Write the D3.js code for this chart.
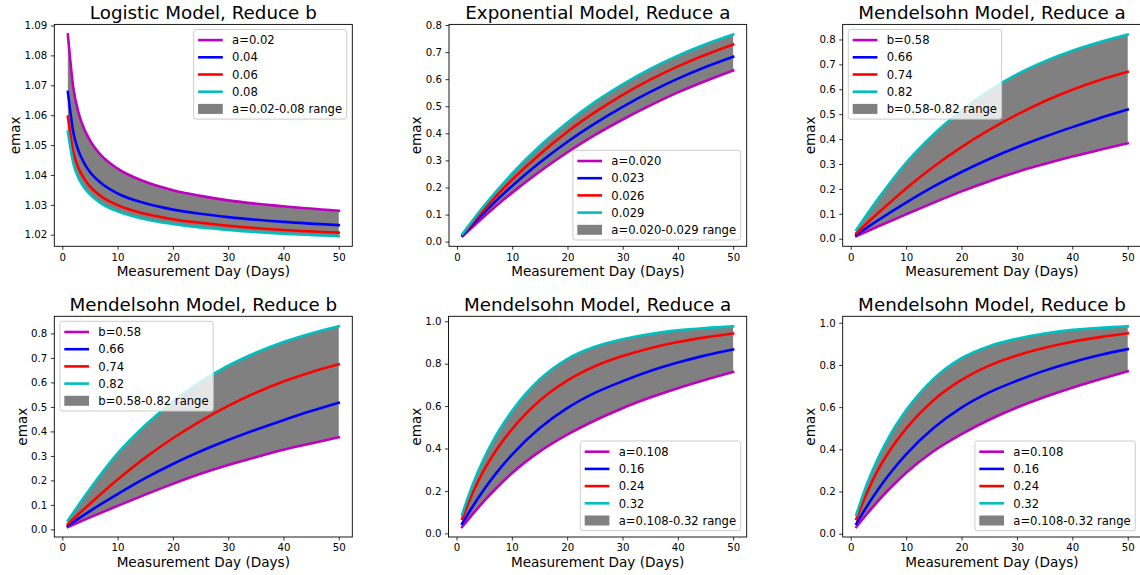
<!DOCTYPE html>
<html>
<head>
<meta charset="utf-8">
<script src="https://cdn.jsdelivr.net/npm/d3@7"></script>
<style>
  body { margin: 0; background: #fff; }
  svg { display: block; }
  svg text { font-family: 'DejaVu Sans', 'DejaVuSans', 'Bitstream Vera Sans', sans-serif; }
</style>
</head>
<body>
<svg width="1140" height="575"></svg>
<script>
// values, one array per curve group
const logisticDays = [1, 2, 3, 4, 5, 7, 10, 15, 20, 25, 30, 40, 50];
const logisticValues = [
  [1.0870, 1.0690, 1.0604, 1.0552, 1.0516, 1.0466, 1.0421, 1.0377, 1.0349, 1.0330, 1.0315, 1.0295, 1.0280],
  [1.0678, 1.0542, 1.0477, 1.0438, 1.0410, 1.0373, 1.0338, 1.0305, 1.0284, 1.0270, 1.0259, 1.0243, 1.0232],
  [1.0595, 1.0476, 1.0420, 1.0386, 1.0362, 1.0329, 1.0299, 1.0270, 1.0252, 1.0240, 1.0230, 1.0216, 1.0207],
  [1.0545, 1.0438, 1.0387, 1.0356, 1.0335, 1.0305, 1.0278, 1.0252, 1.0236, 1.0224, 1.0216, 1.0203, 1.0195]
];
const logisticLabels = ['a=0.02', '0.04', '0.06', '0.08', 'a=0.02-0.08 range'];
const logisticTicks = [1.02, 1.03, 1.04, 1.05, 1.06, 1.07, 1.08, 1.09];

const expDays = [1, 5, 10, 15, 20, 25, 30, 35, 40, 45, 50];
const expValues = [
  [0.020, 0.095, 0.181, 0.259, 0.330, 0.394, 0.451, 0.503, 0.551, 0.593, 0.632],
  [0.023, 0.109, 0.206, 0.292, 0.369, 0.437, 0.498, 0.553, 0.602, 0.645, 0.683],
  [0.026, 0.122, 0.229, 0.323, 0.406, 0.478, 0.542, 0.598, 0.647, 0.690, 0.728],
  [0.029, 0.135, 0.252, 0.353, 0.440, 0.516, 0.581, 0.638, 0.687, 0.729, 0.765]
];
const expLabels = ['a=0.020', '0.023', '0.026', '0.029', 'a=0.020-0.029 range'];

const mendelDays = [1, 5, 10, 15, 20, 25, 30, 35, 40, 45, 50];
const mendelAValues = [
  [0.010, 0.050, 0.098, 0.145, 0.190, 0.231, 0.268, 0.300, 0.330, 0.357, 0.383],
  [0.015, 0.075, 0.145, 0.210, 0.268, 0.320, 0.367, 0.409, 0.448, 0.485, 0.519],
  [0.022, 0.104, 0.202, 0.290, 0.368, 0.437, 0.498, 0.552, 0.598, 0.637, 0.670],
  [0.035, 0.162, 0.305, 0.420, 0.515, 0.595, 0.660, 0.712, 0.755, 0.790, 0.820]
];
const mendelBValues = [
  [0.010, 0.049, 0.096, 0.142, 0.186, 0.227, 0.263, 0.295, 0.325, 0.351, 0.376],
  [0.015, 0.075, 0.144, 0.209, 0.267, 0.319, 0.365, 0.407, 0.446, 0.483, 0.517],
  [0.022, 0.105, 0.204, 0.293, 0.372, 0.442, 0.504, 0.558, 0.604, 0.642, 0.674],
  [0.036, 0.165, 0.310, 0.425, 0.521, 0.602, 0.668, 0.721, 0.765, 0.800, 0.829]
];
const mendelLabels = ['b=0.58', '0.66', '0.74', '0.82', 'b=0.58-0.82 range'];

const mendel2Days = [1, 3, 5, 7, 10, 15, 20, 25, 30, 35, 40, 45, 50];
const mendel2AValues = [
  [0.030, 0.093, 0.153, 0.208, 0.283, 0.385, 0.465, 0.532, 0.590, 0.640, 0.684, 0.724, 0.761],
  [0.045, 0.130, 0.208, 0.278, 0.370, 0.495, 0.590, 0.662, 0.717, 0.765, 0.805, 0.839, 0.867],
  [0.068, 0.195, 0.300, 0.385, 0.490, 0.625, 0.720, 0.788, 0.836, 0.873, 0.902, 0.924, 0.942],
  [0.088, 0.235, 0.355, 0.455, 0.575, 0.725, 0.822, 0.880, 0.915, 0.940, 0.957, 0.968, 0.976]
];
const mendel2BValues = [
  [0.032, 0.096, 0.157, 0.213, 0.289, 0.392, 0.472, 0.540, 0.598, 0.648, 0.692, 0.732, 0.770],
  [0.047, 0.133, 0.212, 0.283, 0.376, 0.502, 0.598, 0.670, 0.725, 0.773, 0.813, 0.847, 0.875],
  [0.070, 0.198, 0.306, 0.392, 0.498, 0.634, 0.729, 0.797, 0.845, 0.881, 0.910, 0.932, 0.950],
  [0.090, 0.240, 0.362, 0.463, 0.585, 0.735, 0.832, 0.889, 0.924, 0.949, 0.966, 0.976, 0.983]
];
const mendel2Labels = ['a=0.108', '0.16', '0.24', '0.32', 'a=0.108-0.32 range'];

const dayTicks = [0, 10, 20, 30, 40, 50];
const emaxTicks08 = [0, 0.1, 0.2, 0.3, 0.4, 0.5, 0.6, 0.7, 0.8];
const emaxTicks10 = [0, 0.2, 0.4, 0.6, 0.8, 1.0];

const colors = ['#bf00bf', '#0000ff', '#ff0000', '#00bfbf'];
const rangeFill = '#808080';
const font = "'DejaVu Sans', 'DejaVuSans', sans-serif";

const panels = [
  { title: 'Logistic Model, Reduce b', days: logisticDays, values: logisticValues, labels: logisticLabels,
    yTicks: logisticTicks, fmt: '.2f', box: [54.3, 24.4, 352.3, 246.3], legend: 'upper right' },
  { title: 'Exponential Model, Reduce a', days: expDays, values: expValues, labels: expLabels,
    yTicks: emaxTicks08, fmt: '.1f', box: [449, 24.4, 746.7, 246.3], legend: 'lower right' },
  { title: 'Mendelsohn Model, Reduce a', days: mendelDays, values: mendelAValues, labels: mendelLabels,
    yTicks: emaxTicks08, fmt: '.1f', box: [842.7, 24.4, 1141.3, 246.3], legend: 'upper left' },
  { title: 'Mendelsohn Model, Reduce b', days: mendelDays, values: mendelBValues, labels: mendelLabels,
    yTicks: emaxTicks08, fmt: '.1f', box: [54.3, 316.3, 352.3, 537], legend: 'upper left' },
  { title: 'Mendelsohn Model, Reduce a', days: mendel2Days, values: mendel2AValues, labels: mendel2Labels,
    yTicks: emaxTicks10, fmt: '.1f', box: [448.5, 316.3, 746.7, 537], legend: 'lower right' },
  { title: 'Mendelsohn Model, Reduce b', days: mendel2Days, values: mendel2BValues, labels: mendel2Labels,
    yTicks: emaxTicks10, fmt: '.1f', box: [842.7, 316.3, 1141.3, 537], legend: 'lower right' }
];

const svg = d3.select('svg').attr('font-family', font);

// matplotlib style 5% margins
function padded(ext) {
  const m = (ext[1] - ext[0]) * 0.05;
  return [ext[0] - m, ext[1] + m];
}

function label(sel, size) {
  return sel.append('text').attr('font-family', font).attr('font-size', size).attr('fill', '#000');
}

function drawPanel(p) {
  const [x0, y0, x1, y1] = p.box;
  const x = d3.scaleLinear().domain(padded(d3.extent(p.days))).range([x0, x1]);
  const y = d3.scaleLinear().domain(padded(d3.extent(p.values.flat()))).range([y1, y0]);
  const g = svg.append('g');

  const last = p.values[p.values.length - 1];
  const area = d3.area()
    .x((d, i) => x(p.days[i]))
    .y0((d, i) => y(last[i]))
    .y1(d => y(d))
    .curve(d3.curveMonotoneX);
  g.append('path').datum(p.values[0]).attr('d', area).attr('fill', rangeFill);

  const line = d3.line()
    .x((d, i) => x(p.days[i]))
    .y(d => y(d))
    .curve(d3.curveMonotoneX);
  p.values.forEach((v, k) => {
    g.append('path').datum(v)
      .attr('d', line)
      .attr('fill', 'none')
      .attr('stroke', colors[k])
      .attr('stroke-width', 2.6)
      .attr('stroke-linecap', 'square');
  });

  const xAxis = g.append('g')
    .attr('transform', `translate(0,${y1})`)
    .call(d3.axisBottom(x).tickValues(dayTicks).tickFormat(d3.format('d')).tickSize(3.5).tickPadding(3.5));
  const yAxis = g.append('g')
    .attr('transform', `translate(${x0},0)`)
    .call(d3.axisLeft(y).tickValues(p.yTicks).tickFormat(d3.format(p.fmt)).tickSize(3.5).tickPadding(3.5));
  [xAxis, yAxis].forEach(a => {
    a.select('.domain').remove();
    a.attr('font-family', font).attr('font-size', 10.2);
    a.selectAll('line').attr('stroke', '#000').attr('stroke-width', 0.8);
    a.selectAll('text').attr('fill', '#000').attr('font-family', font);
  });

  g.append('rect')
    .attr('x', x0).attr('y', y0)
    .attr('width', x1 - x0).attr('height', y1 - y0)
    .attr('fill', 'none').attr('stroke', '#000').attr('stroke-width', 0.9);

  const cx = (x0 + x1) / 2;
  label(g, 18.3).attr('x', cx).attr('y', y0 - 5.5)
    .attr('text-anchor', 'middle').text(p.title);
  label(g, 13.6).attr('x', cx).attr('y', y1 + 29.5)
    .attr('text-anchor', 'middle').text('Measurement Day (Days)');

  let tickW = 0;
  yAxis.selectAll('text').each(function () { tickW = Math.max(tickW, this.getComputedTextLength()); });
  const lx = x0 - 7 - tickW - 4.5;
  label(g, 13.6)
    .attr('transform', `translate(${lx},${(y0 + y1) / 2}) rotate(-90)`)
    .attr('text-anchor', 'middle').text('emax');

  drawLegend(g, p, x0, y0, x1, y1);
}

function drawLegend(g, p, x0, y0, x1, y1) {
  const rowH = 17.2;
  const leg = g.append('g');
  const bg = leg.append('rect');
  let textW = 0;
  p.labels.forEach((lab, k) => {
    const cy = 10.7 + k * rowH;
    if (k < colors.length) {
      leg.append('line')
        .attr('x1', 4.4).attr('x2', 29.1).attr('y1', cy).attr('y2', cy)
        .attr('stroke', colors[k]).attr('stroke-width', 2.6);
    } else {
      leg.append('rect')
        .attr('x', 4.4).attr('y', cy - 5).attr('width', 24.7).attr('height', 10)
        .attr('fill', rangeFill);
    }
    const t = label(leg, 11.6).attr('x', 38.4).attr('y', cy + 4.2).text(lab);
    textW = Math.max(textW, t.node().getComputedTextLength());
  });
  const w = 38.4 + textW + 4.6;
  const h = 89.7;
  bg.attr('width', w).attr('height', h).attr('rx', 2.5)
    .attr('fill', '#fff').attr('fill-opacity', 0.8)
    .attr('stroke', '#cccccc').attr('stroke-width', 1);
  let lx, ly;
  if (p.legend === 'upper right') { lx = x1 - 5.6 - w; ly = y0 + 5; }
  else if (p.legend === 'upper left') { lx = x0 + 5.6; ly = y0 + 5; }
  else { lx = x1 - 6 - w; ly = y1 - 6.3 - h; }
  leg.attr('transform', `translate(${lx},${ly})`);
}

panels.forEach(drawPanel);
</script>
</body>
</html>
